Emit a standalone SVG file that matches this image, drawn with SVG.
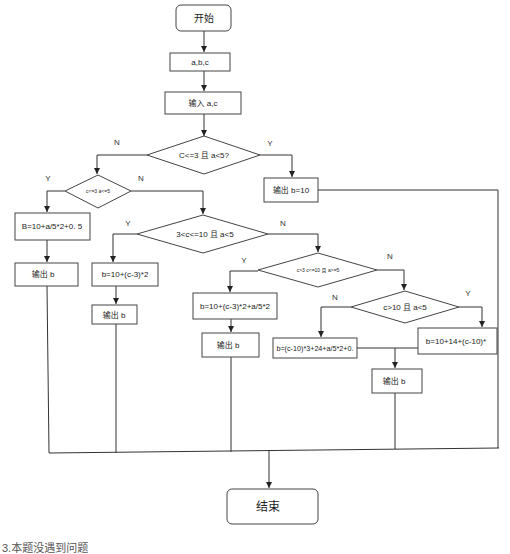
<svg xmlns="http://www.w3.org/2000/svg" width="510" height="554" viewBox="0 0 510 554">
<style>
.b{fill:#fff;stroke:#444;stroke-width:1}
.l{fill:none;stroke:#333;stroke-width:1}
.t{font-family:"Liberation Sans","Noto Sans CJK SC",sans-serif;font-size:8px;fill:#222;text-anchor:middle;dominant-baseline:central}
.s{font-size:5px}
.m{font-size:12px}
.y{font-family:"Liberation Sans",sans-serif;font-size:8px;fill:#333;text-anchor:middle}
</style>
<defs>
<marker id="a" viewBox="0 0 6 6" refX="6" refY="3" markerWidth="6" markerHeight="6" orient="auto" markerUnits="userSpaceOnUse">
<path d="M0,0L6,3L0,6z" fill="#222"/>
</marker>
</defs>
<rect width="510" height="554" fill="#fff"/>
<g id="connectors">
<path class="l" d="M204,31V52" marker-end="url(#a)"/>
<path class="l" d="M204,71V91" marker-end="url(#a)"/>
<path class="l" d="M204,114V136" marker-end="url(#a)"/>
<path class="l" d="M147,155H97V174" marker-end="url(#a)"/>
<path class="l" d="M260,155H292V177" marker-end="url(#a)"/>
<path class="l" d="M318,190H498V448"/>
<path class="l" d="M65,191H47V212" marker-end="url(#a)"/>
<path class="l" d="M131,191H203V214" marker-end="url(#a)"/>
<path class="l" d="M47,240V262" marker-end="url(#a)"/>
<path class="l" d="M47,286L49,453"/>
<path class="l" d="M137,234H113V262" marker-end="url(#a)"/>
<path class="l" d="M116,286V304" marker-end="url(#a)"/>
<path class="l" d="M116,324V453"/>
<path class="l" d="M268,234H318V252" marker-end="url(#a)"/>
<path class="l" d="M258,271H230V292" marker-end="url(#a)"/>
<path class="l" d="M231,319V332" marker-end="url(#a)"/>
<path class="l" d="M231,357V452"/>
<path class="l" d="M377,270H404V290" marker-end="url(#a)"/>
<path class="l" d="M351,307H321V337" marker-end="url(#a)"/>
<path class="l" d="M459,307H482V327" marker-end="url(#a)"/>
<path class="l" d="M357,348H418"/>
<path class="l" d="M395,348V368" marker-end="url(#a)"/>
<path class="l" d="M395,393V449"/>
<path class="l" d="M49,453L499,448"/>
<path class="l" d="M269,451V488" marker-end="url(#a)"/>
<text class="y" x="117" y="145">N</text>
<text class="y" x="270" y="146">Y</text>
<text class="y" x="48" y="181">Y</text>
<text class="y" x="141" y="181">N</text>
<text class="y" x="128" y="226">Y</text>
<text class="y" x="283" y="226">N</text>
<text class="y" x="244" y="263">Y</text>
<text class="y" x="390" y="259">N</text>
<text class="y" x="335" y="300">N</text>
<text class="y" x="468" y="296">Y</text>
</g>
<g id="start"><rect class="b" x="176" y="5" width="55" height="26" rx="5"/><text class="t" x="204" y="18" style="font-size:10px">开始</text></g>
<g id="abc"><rect class="b" x="170" y="53" width="60" height="18"/><text class="t" x="200" y="62">a,b,c</text></g>
<g id="input"><rect class="b" x="165" y="92" width="76" height="22"/><text class="t" x="203" y="103">输入 a,c</text></g>
<g id="d1"><path class="b" d="M204,136L260,155L204,174L147,155z"/><text class="t" x="204" y="155">C&lt;=3 且 a&lt;5?</text></g>
<g id="out10"><rect class="b" x="264" y="178" width="54" height="24"/><text class="t" x="291" y="190">输出 b=10</text></g>
<g id="d2"><path class="b" d="M98,175L131,191L98,208L65,191z"/><text class="t s" x="98" y="191">c&lt;=3 a&lt;=5</text></g>
<g id="boxB"><rect class="b" x="15" y="213" width="75" height="27"/><text class="t" x="52" y="226">B=10+a/5*2+0. 5</text></g>
<g id="outB1"><rect class="b" x="15" y="263" width="63" height="23"/><text class="t" x="43" y="274">输出 b</text></g>
<g id="d3"><path class="b" d="M203,215L268,234L203,253L137,234z"/><text class="t" x="205" y="234">3&lt;c&lt;=10 且 a&lt;5</text></g>
<g id="box2"><rect class="b" x="92" y="263" width="66" height="23"/><text class="t" x="125" y="274">b=10+(c-3)*2</text></g>
<g id="outB2"><rect class="b" x="92" y="305" width="45" height="19"/><text class="t" x="114" y="315">输出 b</text></g>
<g id="d4"><path class="b" d="M318,253L377,270L318,287L258,270z"/><text class="t s" x="318" y="270">c&gt;3 c&lt;=10 且 a&gt;=5</text></g>
<g id="box3"><rect class="b" x="193" y="293" width="84" height="26"/><text class="t" x="235" y="306">b=10+(c-3)*2+a/5*2</text></g>
<g id="outB3"><rect class="b" x="202" y="333" width="57" height="24"/><text class="t" x="228" y="345">输出 b</text></g>
<g id="d5"><path class="b" d="M405,291L459,307L405,323L351,307z"/><text class="t" x="405" y="307">c&gt;10 且 a&lt;5</text></g>
<g id="box4"><rect class="b" x="273" y="338" width="84" height="20"/><text class="t" x="315" y="348" style="font-size:7.2px">b=(c-10)*3+24+a/5*2+0.</text></g>
<g id="box5"><rect class="b" x="418" y="328" width="79" height="26"/><text class="t" x="456" y="341">b=10+14+(c-10)*</text></g>
<g id="outB4"><rect class="b" x="372" y="369" width="50" height="24"/><text class="t" x="394" y="381">输出 b</text></g>
<g id="end"><rect class="b" x="227" y="489" width="91" height="35" rx="5"/><text class="t m" x="268" y="507">结束</text></g>
<text x="2" y="552" style="font-family:'Liberation Sans','Noto Sans CJK SC',sans-serif;font-size:11px;fill:#555">3.本题没遇到问题</text>
</svg>
